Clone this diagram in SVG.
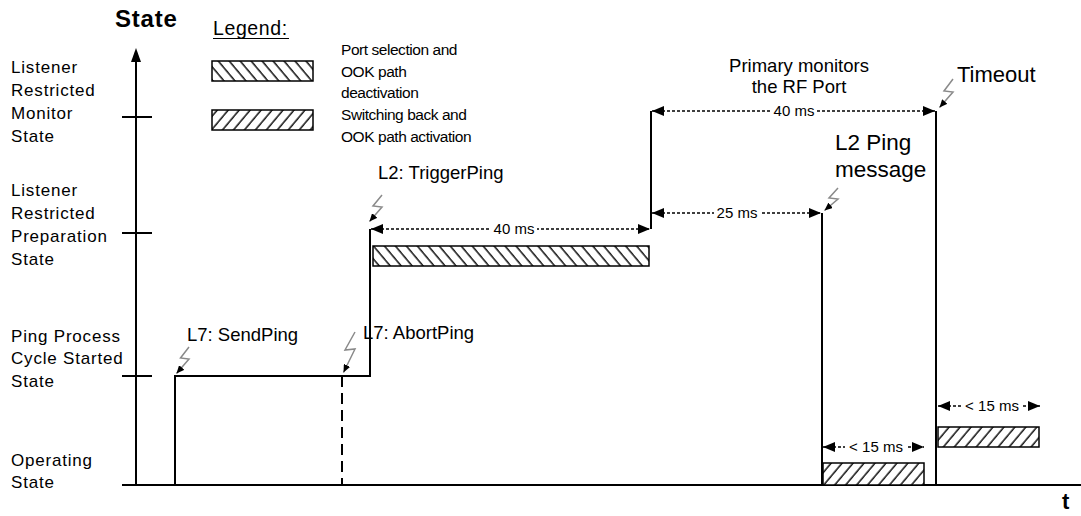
<svg xmlns="http://www.w3.org/2000/svg" width="1081" height="516" viewBox="0 0 1081 516">
<style>
text{font-family:"Liberation Sans",Arial,sans-serif;fill:#000}
.lbl{font-size:17px;letter-spacing:0.8px}
.ev{font-size:18.5px}
.leg{font-size:15.5px;letter-spacing:-0.45px}
.ms{font-size:15px;text-anchor:middle}
.bg{fill:#fff}
.ln{stroke:#000;stroke-width:2;fill:none}
.dot{stroke:#000;stroke-width:1.6;stroke-dasharray:3 2;fill:none;marker-start:url(#ah);marker-end:url(#ah)}
.bar{stroke:#000;stroke-width:1.5}
.bolt{stroke:#8a8a8a;stroke-width:1.5;fill:none;marker-end:url(#bh)}
</style>
<defs>
<marker id="ah" viewBox="0 0 12 10" refX="12" refY="5" markerWidth="12" markerHeight="10" markerUnits="userSpaceOnUse" orient="auto-start-reverse"><path d="M0,0 L12,5 L0,10 z" fill="#000"/></marker>
<marker id="bh" viewBox="0 0 8 7" refX="8" refY="3.5" markerWidth="8" markerHeight="7" markerUnits="userSpaceOnUse" orient="auto"><path d="M0,0 L8,3.5 L0,7 z" fill="#000"/></marker>
<pattern id="hb" width="8.4" height="10" patternUnits="userSpaceOnUse" patternTransform="rotate(-40)"><rect width="8.4" height="10" fill="#fff"/><line x1="2" y1="0" x2="2" y2="10" stroke="#000" stroke-width="1.4"/></pattern>
<pattern id="hf" width="8.4" height="10" patternUnits="userSpaceOnUse" patternTransform="rotate(40)"><rect width="8.4" height="10" fill="#fff"/><line x1="2" y1="0" x2="2" y2="10" stroke="#000" stroke-width="1.4"/></pattern>
</defs>
<rect width="1081" height="516" fill="#fff"/>

<g id="axes">
<path class="ln" d="M136,485 V60"/>
<path d="M136,48 L131,62 L141,62 z" fill="#000"/>
<path class="ln" d="M122,485 H1081"/>
<path class="ln" d="M122,117 H152 M122,233 H152 M122,376 H152 M122,485 H152"/>
<text x="115" y="27" font-size="24" font-weight="bold" letter-spacing="0.8">State</text>
<text x="1062" y="509" font-size="22" font-weight="bold">t</text>
</g>

<g id="state-labels">
<text class="lbl" x="11" y="73">Listener</text>
<text class="lbl" x="11" y="96">Restricted</text>
<text class="lbl" x="11" y="119">Monitor</text>
<text class="lbl" x="11" y="142">State</text>
<text class="lbl" x="11" y="196">Listener</text>
<text class="lbl" x="11" y="219">Restricted</text>
<text class="lbl" x="11" y="242">Preparation</text>
<text class="lbl" x="11" y="265">State</text>
<text class="lbl" x="11" y="342">Ping Process</text>
<text class="lbl" x="11" y="364">Cycle Started</text>
<text class="lbl" x="11" y="387">State</text>
<text class="lbl" x="11" y="466">Operating</text>
<text class="lbl" x="11" y="488">State</text>
</g>

<g id="legend">
<text x="213" y="35" font-size="19.5" letter-spacing="0.6">Legend:</text>
<line x1="213" y1="38.5" x2="289" y2="38.5" stroke="#000" stroke-width="1.2"/>
<rect class="bar" x="212" y="61" width="101" height="20" fill="url(#hb)"/>
<rect class="bar" x="212" y="110" width="101" height="20" fill="url(#hf)"/>
<text class="leg" x="341" y="55">Port selection and</text>
<text class="leg" x="341" y="77">OOK path</text>
<text class="leg" x="341" y="98">deactivation</text>
<text class="leg" x="341" y="120">Switching back and</text>
<text class="leg" x="341" y="142">OOK path activation</text>
</g>

<g id="state-trace">
<path class="ln" d="M175,485 V376 H370 V229"/>
<path d="M342,376 V485" stroke="#000" stroke-width="2" stroke-dasharray="11 6" fill="none"/>
<path class="ln" d="M651,229 V111"/>
<path class="ln" d="M936,111 V485"/>
<path class="ln" d="M822,213 V485"/>
</g>

<g id="bars">
<rect class="bar" x="373" y="246" width="276" height="20" fill="url(#hb)"/>
<rect class="bar" x="823" y="463" width="101" height="22" fill="url(#hf)"/>
<rect class="bar" x="938" y="427" width="101" height="20" fill="url(#hf)"/>
</g>

<g id="events">
<path class="bolt" d="M189,347 L180.5,358 L189,359 L176.5,373.5"/>
<text class="ev" x="187" y="341">L7: SendPing</text>
<path class="bolt" d="M355,332 L345,350 L355,349 L343.5,372.5"/>
<text class="ev" x="363" y="339">L7: AbortPing</text>
<path class="bolt" d="M382,195 L373,206 L382,207 L369.5,221.5"/>
<text class="ev" x="378" y="179">L2: TriggerPing</text>
<path class="bolt" d="M838,188 L829,198 L838,199 L824.5,210.5"/>
<text x="835" y="150" font-size="22.5">L2 Ping</text>
<text x="835" y="177" font-size="22.5">message</text>
<path class="bolt" d="M953,79 L944,91 L953,92 L939.5,107.5"/>
<text x="957" y="82" font-size="22">Timeout</text>
<text class="ev" x="799" y="72" text-anchor="middle">Primary monitors</text>
<text class="ev" x="799" y="93" text-anchor="middle">the RF Port</text>
</g>

<g id="connectors">
<line class="dot" x1="371" y1="229" x2="650" y2="229"/>
<rect class="bg" x="491" y="221" width="46" height="16"/>
<text class="ms" x="514" y="234">40 ms</text>
<line class="dot" x1="652" y1="111" x2="935" y2="111"/>
<rect class="bg" x="771" y="103" width="46" height="16"/>
<text class="ms" x="794" y="116">40 ms</text>
<line class="dot" x1="652" y1="213" x2="821" y2="213"/>
<rect class="bg" x="714" y="205" width="46" height="16"/>
<text class="ms" x="737" y="218">25 ms</text>
<line class="dot" x1="823" y1="447" x2="924" y2="447"/>
<rect class="bg" x="845" y="439" width="61" height="16"/>
<text class="ms" x="876" y="452">&lt; 15 ms</text>
<line class="dot" x1="938" y1="406" x2="1040" y2="406"/>
<rect class="bg" x="961" y="398" width="61" height="16"/>
<text class="ms" x="992" y="411">&lt; 15 ms</text>
</g>
</svg>
